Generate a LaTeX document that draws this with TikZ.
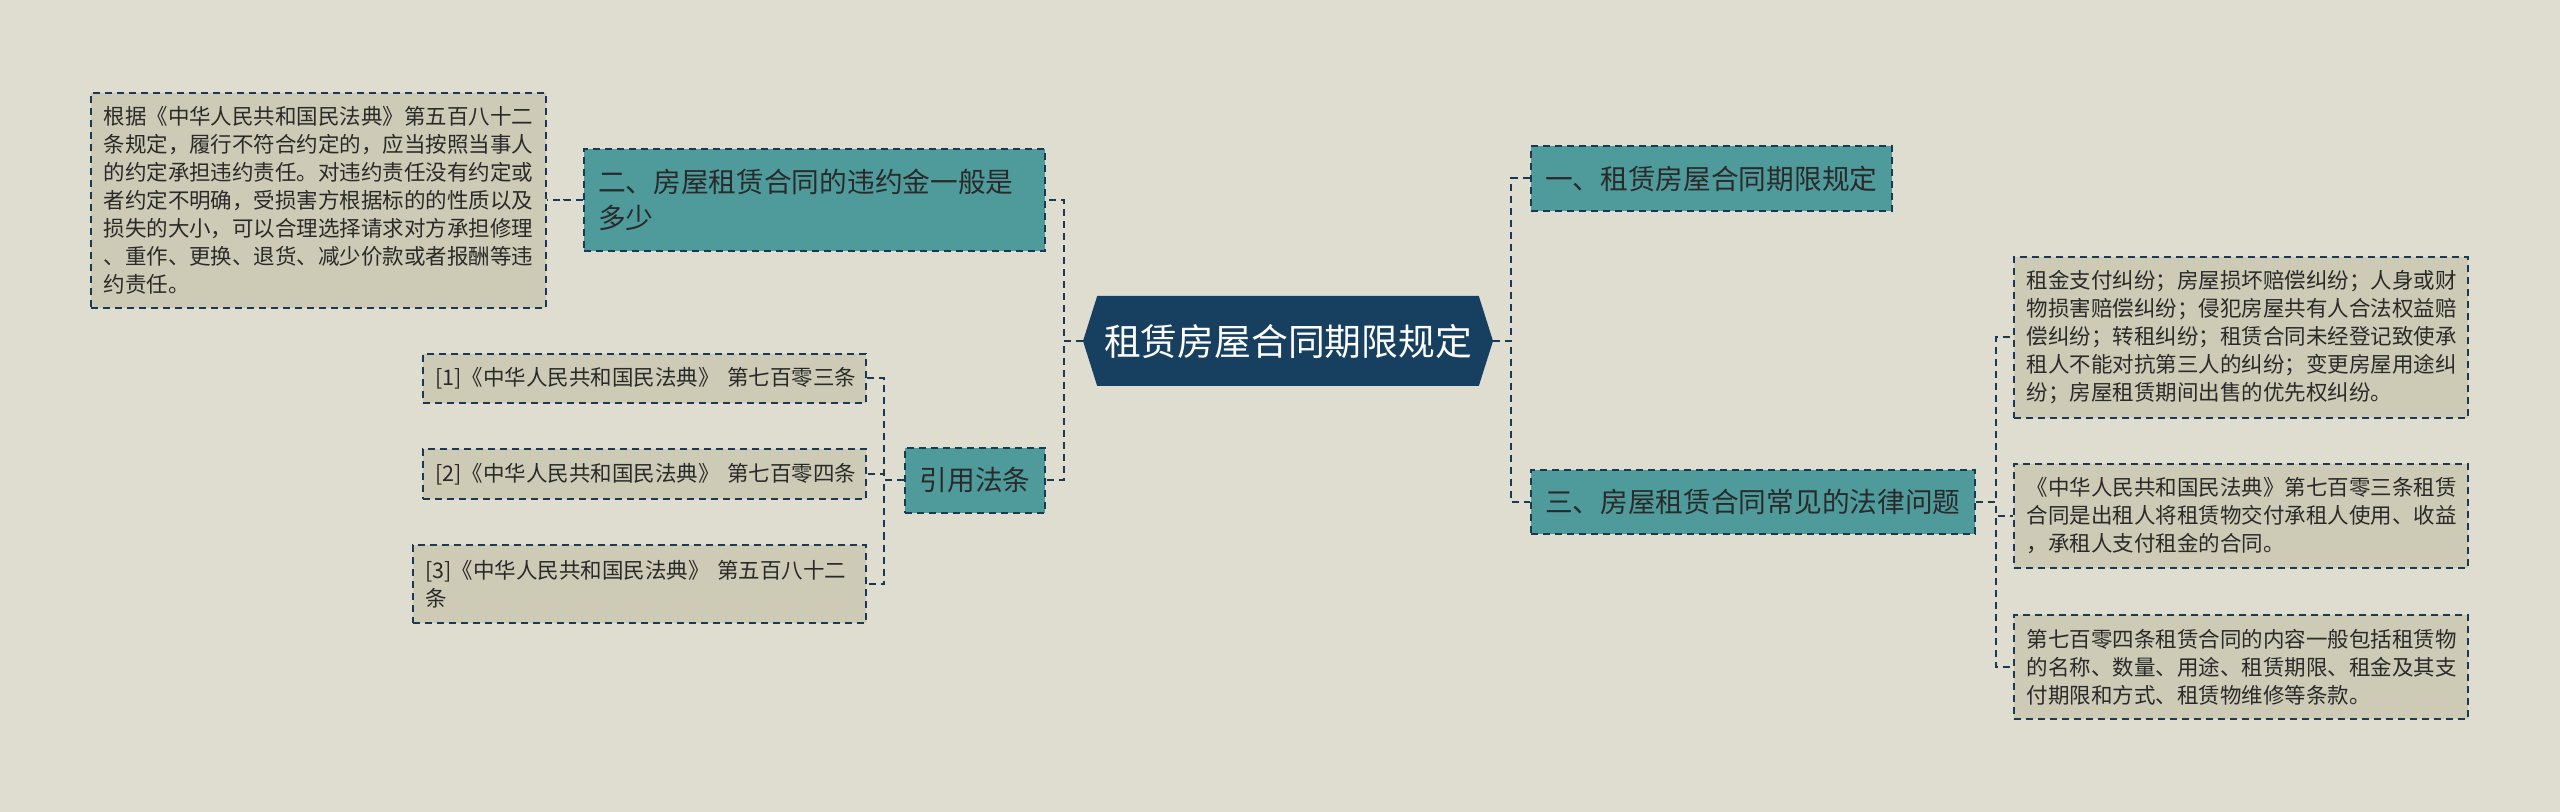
\documentclass[tikz,border=0pt]{standalone}
\usepackage{fontspec}
\setmainfont{Noto Sans CJK SC}
\usepackage{tikz}
\usetikzlibrary{shapes.symbols}
\definecolor{bg}{HTML}{DFDDCF}
\definecolor{navy}{HTML}{173F5F}
\definecolor{teal}{HTML}{4F9B9C}
\definecolor{sand}{HTML}{CDCBB6}
\definecolor{edge}{HTML}{1B3A52}
\definecolor{ink}{HTML}{2A2A2A}

\begin{document}
\begin{tikzpicture}[
    x=0.5pt, y=-0.5pt,
    root/.style={signal, signal to=west and east, signal pointer angle=145, fill=navy, text=white, minimum width=205pt, minimum height=45pt, inner sep=0pt, font=\fontsize{18.4}{22}\selectfont},
    topic/.style={draw=edge, dash pattern=on 3.5pt off 2.5pt, line width=0.9pt, fill=teal, text=ink, align=left, inner xsep=7pt, inner ysep=0pt, font=\fontsize{13.85}{18.3}\selectfont},
    leaf/.style={draw=edge, dash pattern=on 3.5pt off 2.5pt, line width=0.9pt, fill=sand, text=ink, align=left, inner xsep=6.25pt, inner ysep=0pt, font=\fontsize{10.75}{14}\selectfont},
    link/.style={draw=edge, dash pattern=on 3.5pt off 2.5pt, line width=1pt},
  ]
  \fill[bg] (0,0) rectangle (2560,812);
  \useasboundingbox (0,0) rectangle (2560,812);
  \node[root] (root) at (1288,341) {租赁房屋合同期限规定};
  \node[topic, text width=216.5pt, minimum height=51pt] (t2) at (814.5,200) {二、房屋租赁合同的违约金一般是\\多少};
  \node[leaf, text width=215pt, minimum height=107.5pt] (lv) at (318.5,200.5) {
    根据《中华人民共和国民法典》第五百八十二\\
    条规定，履行不符合约定的，应当按照当事人\\
    的约定承担违约责任。对违约责任没有约定或\\
    者约定不明确，受损害方根据标的的性质以及\\
    损失的大小，可以合理选择请求对方承担修理\\
    、重作、更换、退货、减少价款或者报酬等违\\
    约责任。
  };
  \node[topic, align=center, minimum width=70pt, minimum height=32.5pt] (cite) at (975,480.5) {引用法条};
  \node[leaf, text width=209pt, minimum height=24.5pt] (c1) at (644.5,378.5) {[1]《中华人民共和国民法典》~第七百零三条};
  \node[leaf, text width=209pt, minimum height=25pt] (c2) at (644.5,474) {[2]《中华人民共和国民法典》~第七百零四条};
  \node[leaf, text width=214pt, minimum height=39pt] (c3) at (639.5,584) {[3]《中华人民共和国民法典》~第五百八十二\\条};
  \node[topic, text width=166.5pt, minimum height=32.5pt] (t1) at (1711.5,178.5) {一、租赁房屋合同期限规定};
  \node[topic, text width=208pt, minimum height=32pt] (t3) at (1753,502) {三、房屋租赁合同常见的法律问题};
  \node[leaf, text width=214.5pt, minimum height=80.5pt] (r1) at (2241,337.5) {
    租金支付纠纷；房屋损坏赔偿纠纷；人身或财\\
    物损害赔偿纠纷；侵犯房屋共有人合法权益赔\\
    偿纠纷；转租纠纷；租赁合同未经登记致使承\\
    租人不能对抗第三人的纠纷；变更房屋用途纠\\
    纷；房屋租赁期间出售的优先权纠纷。
  };
  \node[leaf, text width=214.5pt, minimum height=52pt] (r2) at (2241,516) {
    《中华人民共和国民法典》第七百零三条租赁\\
    合同是出租人将租赁物交付承租人使用、收益\\
    ，承租人支付租金的合同。
  };
  \node[leaf, text width=214.5pt, minimum height=52pt] (r3) at (2241,667) {
    第七百零四条租赁合同的内容一般包括租赁物\\
    的名称、数量、用途、租赁期限、租金及其支\\
    付期限和方式、租赁物维修等条款。
  };
  \draw[link] (root.west) -- ++(-19,0) |- (t2.east);
  \draw[link] (root.west) -- ++(-19,0) |- (cite.east);
  \draw[link] (root.east) -- ++(18,0) |- (t1.west);
  \draw[link] (root.east) -- ++(18,0) |- (t3.west);
  \draw[link] (t2.west) -- ++(-19,0) |- (lv.east);
  \foreach \n in {c1, c2, c3}{
    \draw[link] (cite.west) -- ++(-20,0) |- (\n.east);
  }
  \foreach \n in {r1, r2, r3}{
    \draw[link] (t3.east) -- ++(20,0) |- (\n.west);
  }
\end{tikzpicture}
\end{document}
